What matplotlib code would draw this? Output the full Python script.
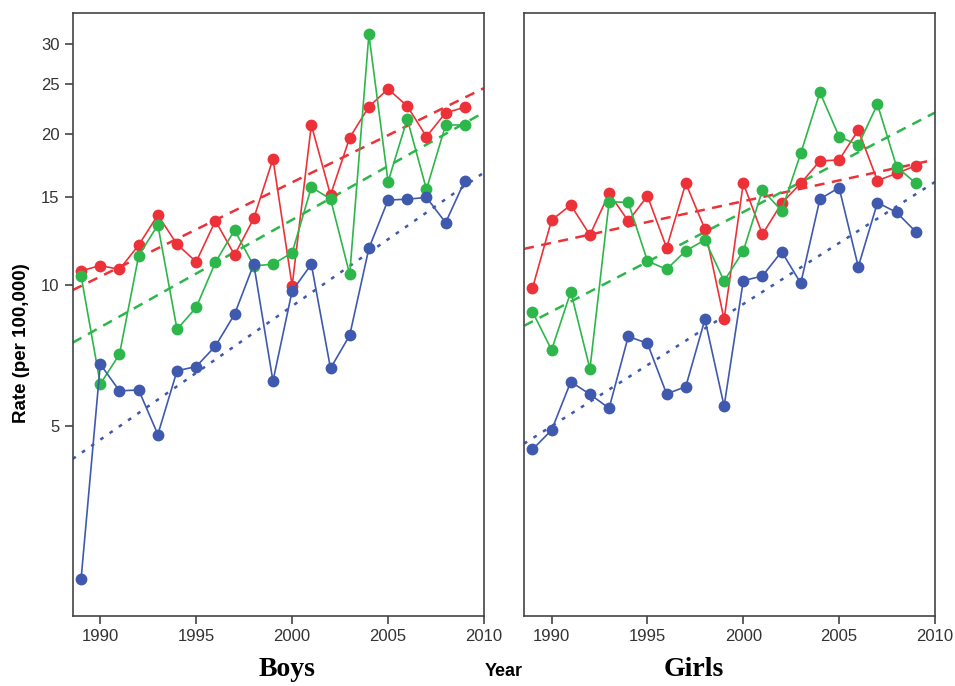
import numpy as np
import matplotlib
matplotlib.use("Agg")
import matplotlib.pyplot as plt

years = np.arange(1989, 2010)

boys_red = [10.68, 10.94, 10.75, 12.04, 13.84, 12.08, 11.14, 13.48, 11.50, 13.63, 17.88,
            9.95, 20.85, 15.17, 19.69, 22.63, 24.50, 22.70, 19.78, 22.03, 22.57]
boys_green = [10.42, 6.18, 7.16, 11.46, 13.22, 8.08, 8.98, 11.11, 12.91, 10.92, 11.02,
              11.62, 15.72, 14.90, 10.50, 31.25, 16.12, 21.42, 15.57, 20.85, 20.85]
boys_blue = [2.11, 6.82, 5.97, 6.00, 4.78, 6.60, 6.74, 7.45, 8.69, 11.02, 6.27,
             9.71, 11.01, 6.68, 7.85, 11.86, 14.83, 14.88, 15.01, 13.36, 16.20]

girls_red = [9.83, 13.52, 14.49, 12.62, 15.29, 13.46, 15.10, 11.89, 16.01, 12.96, 8.48,
             16.01, 12.66, 14.60, 16.01, 17.72, 17.80, 20.38, 16.20, 16.75, 17.34]
girls_green = [8.80, 7.31, 9.67, 6.66, 14.71, 14.67, 11.18, 10.75, 11.73, 12.33, 10.18,
               11.71, 15.52, 14.12, 18.35, 24.14, 19.78, 19.05, 22.88, 17.26, 16.01]
girls_blue = [4.42, 4.89, 6.25, 5.87, 5.47, 7.81, 7.55, 5.88, 6.10, 8.48, 5.53,
              10.19, 10.42, 11.68, 10.07, 14.90, 15.69, 10.88, 14.65, 14.01, 12.81]

y_ticks = [5, 10, 15, 20, 25, 30]
x_ticks = [1990, 1995, 2000, 2005, 2010]

RED = '#EC3238'
GREEN = '#2DB64A'
BLUE = '#3F59AE'


def fwd(v):
    return np.log10(np.asarray(v, dtype=float) + 1)


def inv(t):
    return 10 ** np.asarray(t, dtype=float) - 1


def draw_panel(ax, series):
    xlim = (1988.56, 2010)
    for vals, color, ls in series:
        ax.plot(years, vals, color=color, linewidth=1.2, marker='o', markersize=8.5,
                markeredgewidth=0, zorder=3)
        # trend line fitted on the transformed scale
        k, b = np.polyfit(years, fwd(vals), 1)
        xs = np.array(xlim)
        ax.plot(xs, inv(k * xs + b), color=color, linestyle=ls, linewidth=1.8,
                zorder=2)
    ax.set_yscale('function', functions=(fwd, inv))
    ax.set_ylim(1.65, 34.3)
    ax.set_xlim(*xlim)
    ax.set_xticks(x_ticks)
    ax.set_xticklabels([str(x) for x in x_ticks])
    ax.minorticks_off()
    for s in ax.spines.values():
        s.set_color('#444444')
        s.set_linewidth(1.2)
    ax.tick_params(axis='both', direction='out', length=6, width=1.2,
                   color='#444444', labelsize=12, labelcolor='#333333')


fig = plt.figure(figsize=(9.55, 6.86), dpi=100)
plt.rcParams['font.family'] = ['Liberation Sans', 'DejaVu Sans']

ax1 = fig.add_axes([0.0761, 0.102, 0.4307, 0.8786])
ax2 = fig.add_axes([0.5487, 0.102, 0.4303, 0.8786])

draw_panel(ax1, [(boys_red, RED, (0, (4, 3))), (boys_green, GREEN, (0, (4, 3))),
                 (boys_blue, BLUE, (0, (1.5, 3)))])
draw_panel(ax2, [(girls_red, RED, (0, (4, 3))), (girls_green, GREEN, (0, (4, 3))),
                 (girls_blue, BLUE, (0, (1.5, 3)))])

ax1.set_yticks(y_ticks)
ax1.set_yticklabels([str(v) for v in y_ticks])
ax2.set_yticks([])

fig.text(0.023, 0.5, 'Rate (per 100,000)', rotation=90, ha='center', va='center',
         fontsize=13.5, fontweight='bold')
fig.text(0.527, 0.021, 'Year', ha='center', va='center', fontsize=13,
         fontweight='bold')
fig.text(0.3005, 0.014, 'Boys', ha='center', va='baseline', fontsize=20,
         fontweight='bold', family='Liberation Serif')
fig.text(0.7267, 0.014, 'Girls', ha='center', va='baseline', fontsize=20,
         fontweight='bold', family='Liberation Serif')

fig.savefig('out.png', dpi=100)
